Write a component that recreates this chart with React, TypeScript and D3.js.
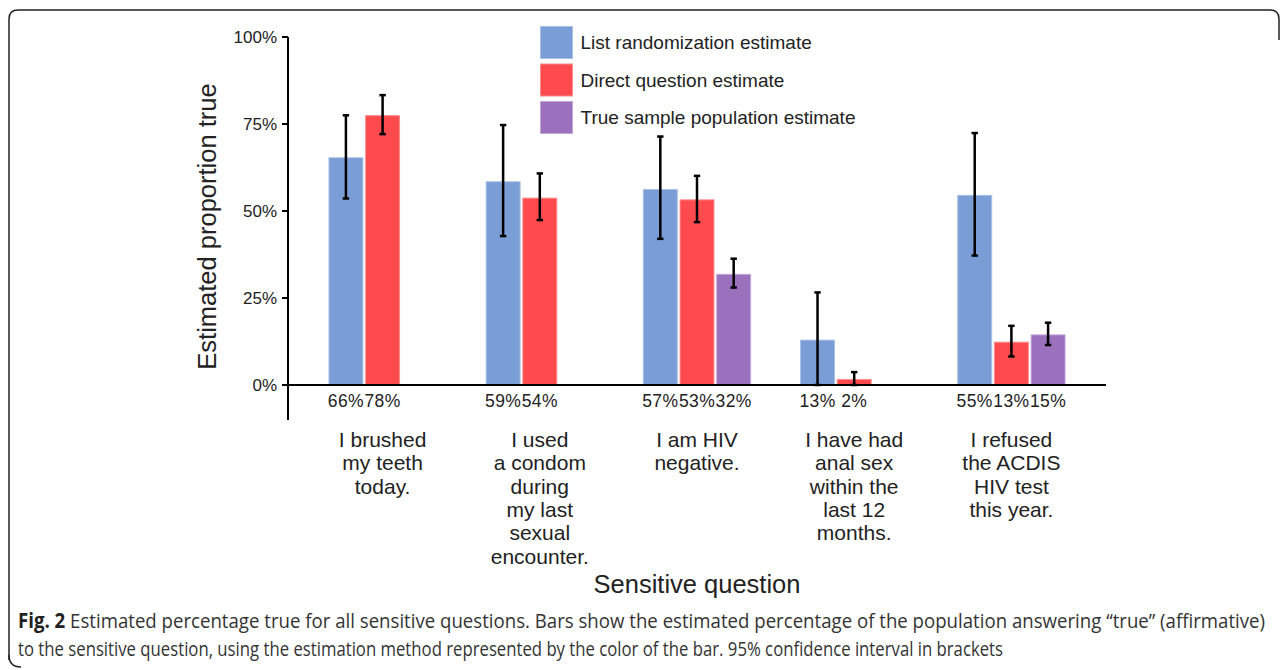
import React from "react";
import * as d3 from "d3";

const categories = [
  ["I brushed", "my teeth", "today."],
  ["I used", "a condom", "during", "my last", "sexual", "encounter."],
  ["I am HIV", "negative."],
  ["I have had", "anal sex", "within the", "last 12", "months."],
  ["I refused", "the ACDIS", "HIV test", "this year."],
];
const seriesNames = [
  "List randomization estimate",
  "Direct question estimate",
  "True sample population estimate",
];
const colors = ["#7b9dd6", "#ff4a4e", "#9b70bd"];
const strokes = ["#a8c0ea", "#ff8c8e", "#c3a6dc"];

const listEst = [0.653, 0.584, 0.562, 0.129, 0.545];
const listLo = [0.536, 0.428, 0.42, 0.0, 0.372];
const listHi = [0.775, 0.747, 0.714, 0.266, 0.724];
const listLabels = ["66%", "59%", "57%", "13%", "55%"];

const directEst = [0.774, 0.537, 0.532, 0.016, 0.123];
const directLo = [0.721, 0.474, 0.468, 0.0, 0.082];
const directHi = [0.833, 0.608, 0.601, 0.037, 0.17];
const directLabels = ["78%", "54%", "53%", "2%", "13%"];

const trueEst: (number | null)[] = [null, null, 0.318, null, 0.144];
const trueLo: (number | null)[] = [null, null, 0.28, null, 0.115];
const trueHi: (number | null)[] = [null, null, 0.363, null, 0.179];
const trueLabels: (string | null)[] = [null, null, "32%", null, "15%"];

const yTicks = [0, 0.25, 0.5, 0.75, 1];
const yTickLabels = ["0%", "25%", "50%", "75%", "100%"];

const captionBold = "Fig. 2";
const captionLine1 =
  " Estimated percentage true for all sensitive questions. Bars show the estimated percentage of the population answering \u201Ctrue\u201D (affirmative)";
const captionLine2 =
  "to the sensitive question, using the estimation method represented by the color of the bar. 95% confidence interval in brackets";

export default function App() {
  const W = 1287;
  const H = 670;
  const font = "'Liberation Sans', Arial, sans-serif";
  const capFont = "'Open Sans', sans-serif";

  const catIdx = categories.map((_, i) => i);
  const x = d3
    .scaleBand<number>()
    .domain(catIdx)
    .range([304, 304 + 5 * 157.2])
    .paddingInner(0.3)
    .paddingOuter(0.15);
  const sub = d3
    .scaleBand<number>()
    .domain([0, 1, 2])
    .range([0, x.bandwidth()])
    .paddingInner(0.075)
    .paddingOuter(0.0375);
  const y = d3.scaleLinear().domain([0, 1]).range([385, 37]);

  const series = [
    { est: listEst, lo: listLo, hi: listHi, labels: listLabels },
    { est: directEst, lo: directLo, hi: directHi, labels: directLabels },
    { est: trueEst, lo: trueLo, hi: trueHi, labels: trueLabels },
  ];

  const bars: any[] = [];
  series.forEach((s, si) => {
    catIdx.forEach((ci) => {
      const v = s.est[ci];
      if (v == null) return;
      const bx = (x(ci) as number) + (sub(si) as number);
      bars.push({ si, ci, v, lo: s.lo[ci], hi: s.hi[ci], label: s.labels[ci], bx, bw: sub.bandwidth() });
    });
  });

  const axisX = 288;

  return (
    <svg width={W} height={H} style={{ position: "absolute", left: 0, top: 0, background: "#fff" }}>
      {/* frame */}
      <path
        d="M 9 660 L 9 19 Q 9 10 18 10 L 1270 10 Q 1279 10 1279 19 L 1279 40"
        fill="none"
        stroke="#222"
        strokeWidth={1.5}
      />
      <path d="M 9 655 Q 9 667 21 667" fill="none" stroke="#222" strokeWidth={1.5} />

      {/* bars */}
      {bars.map((b, i) => (
        <rect
          key={"b" + i}
          x={b.bx}
          y={y(b.v)}
          width={b.bw}
          height={y(0) - y(b.v)}
          fill={colors[b.si]}
          stroke={strokes[b.si]}
          strokeWidth={1}
        />
      ))}

      {/* axes */}
      <line x1={axisX} x2={axisX} y1={y(1)} y2={420} stroke="#000" strokeWidth={2} />
      <line x1={282} x2={1106} y1={y(0)} y2={y(0)} stroke="#000" strokeWidth={2} />
      {yTicks.map((t, i) => (
        <g key={"t" + i}>
          <line x1={282} x2={axisX} y1={y(t)} y2={y(t)} stroke="#000" strokeWidth={2} />
          <text
            x={277}
            y={y(t) + 6}
            textAnchor="end"
            fontFamily={font}
            fontSize={17}
            fill="#222"
          >
            {yTickLabels[i]}
          </text>
        </g>
      ))}

      {/* error bars */}
      {bars.map((b, i) => {
        const cx = b.bx + b.bw / 2;
        return (
          <g key={"e" + i} stroke="#000" strokeWidth={2.5}>
            <line x1={cx} x2={cx} y1={y(b.hi)} y2={y(b.lo)} />
            <line x1={cx - 3.2} x2={cx + 3.2} y1={y(b.hi)} y2={y(b.hi)} />
            <line x1={cx - 3.2} x2={cx + 3.2} y1={y(b.lo)} y2={y(b.lo)} />
          </g>
        );
      })}

      {/* value labels */}
      {bars.map((b, i) => (
        <text
          key={"v" + i}
          x={b.bx + b.bw / 2}
          y={407}
          textAnchor="middle"
          fontFamily={font}
          fontSize={17.5}
          letterSpacing={0.4}
          fill="#222"
        >
          {b.label}
        </text>
      ))}

      {/* category labels */}
      {categories.map((lines, ci) => (
        <text
          key={"c" + ci}
          textAnchor="middle"
          fontFamily={font}
          fontSize={21}
          fill="#222"
        >
          {lines.map((ln, li) => (
            <tspan key={li} x={(x(ci) as number) + x.bandwidth() / 2} y={447 + li * 23.3}>
              {ln}
            </tspan>
          ))}
        </text>
      ))}

      {/* axis titles */}
      <text
        transform={`translate(216, 226.5) rotate(-90)`}
        textAnchor="middle"
        fontFamily={font}
        fontSize={25.5}
        fill="#222"
      >
        Estimated proportion true
      </text>
      <text x={697} y={593} textAnchor="middle" fontFamily={font} fontSize={25.5} fill="#222">
        Sensitive question
      </text>

      {/* legend */}
      {seriesNames.map((n, i) => (
        <g key={"l" + i}>
          <rect
            x={540.5}
            y={26.5 + i * 37.5}
            width={32}
            height={32}
            fill={colors[i]}
            stroke={strokes[i]}
            strokeWidth={1}
          />
          <text
            x={580.5}
            y={42.5 + i * 37.5 + 6.8}
            fontFamily={font}
            fontSize={19}
            fill="#222"
          >
            {n}
          </text>
        </g>
      ))}

      {/* caption */}
      <text
        x={18}
        y={628}
        fontFamily={capFont}
        fontSize={20.5}
        fill="#333"
        textLength={1247}
        lengthAdjust="spacingAndGlyphs"
      >
        <tspan fontWeight="bold" fill="#222">{captionBold}</tspan>
        <tspan>{captionLine1}</tspan>
      </text>
      <text
        x={18}
        y={656}
        fontFamily={capFont}
        fontSize={20.5}
        fill="#333"
        textLength={985}
        lengthAdjust="spacingAndGlyphs"
      >
        {captionLine2}
      </text>
    </svg>
  );
}
